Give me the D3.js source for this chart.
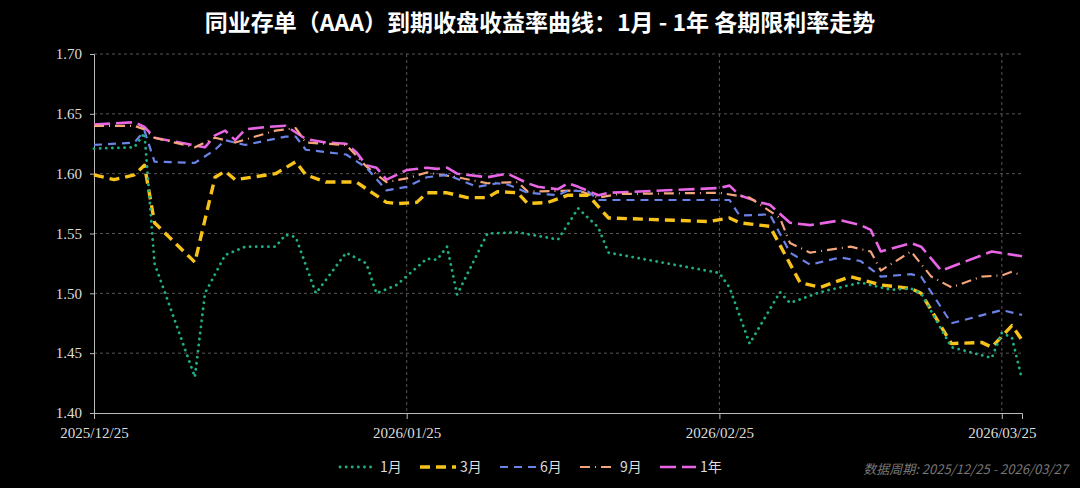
<!DOCTYPE html>
<html><head><meta charset="utf-8">
<script src="https://cdn.jsdelivr.net/npm/d3@7"></script>
<style>body{margin:0;background:#000;}</style>
</head><body><div id="chart"></div>
<script>
// day offsets from 2025/12/25 and yields, per series
const startDate = new Date(2025, 11, 25);
const endDate = new Date(2026, 2, 27);
const xTickLabels = ["2025/12/25", "2026/01/25", "2026/02/25", "2026/03/25"];
const yTicks = [1.40, 1.45, 1.50, 1.55, 1.60, 1.65, 1.70];

const m1Days = [0,4,5,6,10,11,13,15,18,19,20,22,25,27,28,30,33,34,35,36,39,42,46,48,50,51,62,63,65,68,69,72,76,79,81,82,85,89,90,91,92];
const m1Vals = [1.621,1.622,1.634,1.525,1.430,1.500,1.532,1.539,1.539,1.549,1.547,1.500,1.534,1.525,1.500,1.507,1.529,1.528,1.539,1.499,1.550,1.551,1.545,1.571,1.555,1.534,1.517,1.505,1.458,1.501,1.492,1.501,1.509,1.503,1.504,1.500,1.455,1.446,1.467,1.463,1.428];

const m3Days = [0,2,4,5,6,10,12,13,14,18,20,21,23,26,29,30,32,33,35,37,39,40,42,43,45,47,49,51,61,63,64,67,70,72,75,78,81,82,85,88,89,91,92];
const m3Vals = [1.599,1.595,1.599,1.607,1.559,1.526,1.597,1.602,1.595,1.600,1.610,1.599,1.593,1.593,1.576,1.575,1.576,1.584,1.584,1.580,1.580,1.585,1.584,1.575,1.576,1.582,1.582,1.563,1.560,1.563,1.559,1.556,1.509,1.505,1.514,1.507,1.504,1.500,1.458,1.459,1.455,1.473,1.461];

const m6Days = [0,4,5,6,10,12,13,15,19,20,21,25,27,29,31,33,35,38,40,41,43,46,47,49,50,62,63,64,67,69,71,74,76,78,81,82,85,90,92];
const m6Vals = [1.624,1.626,1.636,1.610,1.609,1.620,1.628,1.624,1.631,1.631,1.620,1.616,1.605,1.586,1.589,1.597,1.599,1.589,1.592,1.591,1.584,1.582,1.586,1.585,1.578,1.578,1.578,1.565,1.566,1.534,1.524,1.530,1.527,1.514,1.516,1.514,1.475,1.486,1.482];

const m9Days = [0,4,5,6,10,12,14,18,20,21,25,27,29,31,33,36,39,42,43,48,50,52,62,65,68,69,71,75,77,78,81,83,85,88,90,91,92];
const m9Vals = [1.640,1.640,1.637,1.630,1.622,1.630,1.626,1.636,1.638,1.626,1.624,1.606,1.593,1.596,1.601,1.597,1.592,1.593,1.585,1.586,1.580,1.583,1.584,1.580,1.563,1.542,1.534,1.539,1.535,1.519,1.535,1.514,1.505,1.514,1.515,1.518,1.515];

const y1Days = [0,4,5,6,11,12,13,14,15,17,19,21,23,25,26,27,28,29,31,33,34,35,36,39,41,43,44,46,47,48,50,51,62,63,64,66,67,69,71,74,76,77,78,81,82,84,89,92];
const y1Vals = [1.641,1.643,1.639,1.630,1.622,1.632,1.636,1.628,1.637,1.639,1.640,1.629,1.626,1.625,1.618,1.607,1.605,1.595,1.603,1.605,1.604,1.605,1.600,1.597,1.600,1.592,1.589,1.587,1.592,1.589,1.582,1.584,1.588,1.590,1.582,1.576,1.574,1.559,1.557,1.561,1.557,1.553,1.535,1.542,1.539,1.519,1.535,1.531];

const seriesNames = ["1月", "3月", "6月", "9月", "1年"];

const W = 1080, H = 488;
const m = {left: 94, right: 58, top: 54, bottom: 75};
const svg = d3.select("#chart").append("svg").attr("width", W).attr("height", H)
  .style("background", "#000");

const x = d3.scaleTime().domain([startDate, endDate]).range([m.left, W - m.right]);
const y = d3.scaleLinear().domain([1.40, 1.70]).range([H - m.bottom, m.top]);

svg.append("text").attr("x", W / 2).attr("y", 31).attr("text-anchor", "middle")
  .attr("fill", "#fff").attr("font-size", 23).attr("font-weight", "bold")
  .attr("font-family", "'Noto Sans CJK SC', sans-serif")
  .text("同业存单（AAA）到期收盘收益率曲线：1月 - 1年 各期限利率走势");

const tickDates = xTickLabels.map(s => d3.timeParse("%Y/%m/%d")(s));

// grid
svg.append("g").selectAll("line").data(yTicks.slice(1)).join("line")
  .attr("x1", m.left).attr("x2", W - m.right)
  .attr("y1", d => y(d)).attr("y2", d => y(d))
  .attr("stroke", "#555").attr("stroke-dasharray", "3,3");
svg.append("g").selectAll("line").data(tickDates.slice(1)).join("line")
  .attr("x1", d => x(d)).attr("x2", d => x(d))
  .attr("y1", y(1.70)).attr("y2", y(1.40))
  .attr("stroke", "#555").attr("stroke-dasharray", "3,3");

// axes
const xAxis = svg.append("g").attr("transform", `translate(0,${y(1.40)})`)
  .call(d3.axisBottom(x).tickValues(tickDates).tickFormat(d3.timeFormat("%Y/%m/%d")).tickSize(6).tickPadding(8));
const yAxis = svg.append("g").attr("transform", `translate(${m.left},0)`)
  .call(d3.axisLeft(y).tickValues(yTicks).tickFormat(d3.format(".2f")).tickSize(4).tickPadding(8));
[xAxis, yAxis].forEach(a => {
  a.selectAll("path,line").attr("stroke", "#bbb");
  a.selectAll("text").attr("fill", "#ddd").attr("font-size", 15)
    .attr("font-family", "'Liberation Serif', serif");
});

const styles = [
  {color: "#1fae86", width: 2.8, dash: "0.1,6", cap: "round"},
  {color: "#f7c21a", width: 3.4, dash: "10,6", cap: "butt"},
  {color: "#6b82e6", width: 2.2, dash: "8,6", cap: "butt"},
  {color: "#f4a57c", width: 2.2, dash: "10,5,1,5", cap: "butt"},
  {color: "#e866e6", width: 2.6, dash: "16,6", cap: "butt"}
];
const data = [[m1Days, m1Vals], [m3Days, m3Vals], [m6Days, m6Vals], [m9Days, m9Vals], [y1Days, y1Vals]];
const line = d3.line().x(d => x(d[0])).y(d => y(d[1]));

// draw 1月 last so dots sit on top like the reference
[4, 3, 2, 1, 0].forEach(i => {
  const pts = data[i][0].map((dd, k) => [d3.timeDay.offset(startDate, dd), data[i][1][k]]);
  const s = styles[i];
  svg.append("path").datum(pts).attr("d", line).attr("fill", "none")
    .attr("stroke", s.color).attr("stroke-width", s.width)
    .attr("stroke-dasharray", s.dash).attr("stroke-linecap", s.cap)
    .attr("stroke-linejoin", "round");
});

// legend
const lg = svg.append("g").attr("transform", "translate(340,467)");
const lgX = [0, 80, 160, 240, 320];
seriesNames.forEach((n, i) => {
  const s = styles[i];
  const g = lg.append("g").attr("transform", `translate(${lgX[i]},0)`);
  g.append("line").attr("x1", 0).attr("x2", 36).attr("y1", 0).attr("y2", 0)
    .attr("stroke", s.color).attr("stroke-width", s.width)
    .attr("stroke-dasharray", s.dash).attr("stroke-linecap", s.cap);
  g.append("text").attr("x", 40).attr("y", 5).attr("fill", "#ddd").attr("font-size", 14)
    .attr("font-family", "'Noto Sans CJK SC', sans-serif").text(n);
});

svg.append("text").attr("x", W - 12).attr("y", 474).attr("text-anchor", "end")
  .attr("fill", "#777").attr("font-size", 13).attr("font-style", "italic")
  .attr("font-family", "'Noto Sans CJK SC', sans-serif")
  .text("数据周期:  2025/12/25 - 2026/03/27");
</script></body></html>
